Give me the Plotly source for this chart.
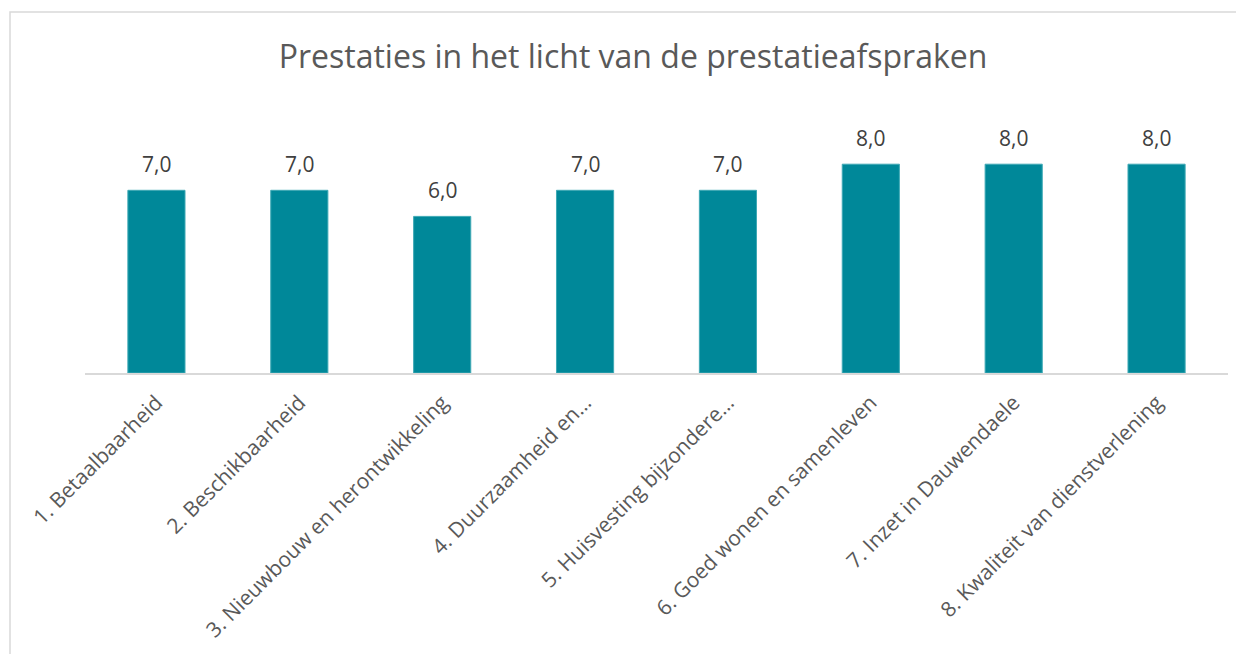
import plotly.graph_objects as go

categories = [
    "1. Betaalbaarheid",
    "2. Beschikbaarheid",
    "3. Nieuwbouw en herontwikkeling",
    "4. Duurzaamheid en…",
    "5. Huisvesting bijzondere…",
    "6. Goed wonen en samenleven",
    "7. Inzet in Dauwendaele",
    "8. Kwaliteit van dienstverlening",
]
scores = [7.0, 7.0, 6.0, 7.0, 7.0, 8.0, 8.0, 8.0]
labels = [f"{v:.1f}".replace(".", ",") for v in scores]

W, H = 1244, 654
OFF = 8  # page body margin
L, R, T, B = 85 - OFF, 16 + OFF, 112 - OFF, 281 + OFF
pw, ph = W - L - R, H - T - B

fig = go.Figure(go.Bar(
    x=categories, y=scores,
    marker=dict(color="#008899", line=dict(color="#3fa9b5", width=1)),
))

for c, v, t in zip(categories, scores, labels):
    fig.add_annotation(x=c, y=v, text=t, showarrow=False, yanchor="bottom", yshift=10,
                       font=dict(size=21, color="#404040", family="Open Sans"))

def px2x(p):
    return (p - OFF - L) / pw

def py2y(p):
    return (H - B - (p - OFF)) / ph

fig.add_shape(type="rect", xref="paper", yref="paper",
              x0=px2x(10), x1=px2x(1260), y0=py2y(720), y1=py2y(12),
              line=dict(color="#d9d9d9", width=1.5), fillcolor="rgba(0,0,0,0)", layer="below")

fig.update_layout(
    width=W, height=H,
    margin=dict(l=L, r=R, t=T, b=B),
    paper_bgcolor="white", plot_bgcolor="white",
    title=dict(text="Prestaties in het licht van de prestatieafspraken",
               x=(633 - OFF) / W, xanchor="center", y=1 - (57 - OFF) / H, yanchor="middle",
               font=dict(size=32, color="#595959", family="Open Sans")),
    bargap=0.6,
    showlegend=False,
    xaxis=dict(tickangle=-45, showline=True, linecolor="#d9d9d9", linewidth=2,
               tickfont=dict(size=21, color="#595959", family="Open Sans"),
               ticks="", showgrid=False, ticklabelstandoff=7),
    yaxis=dict(range=[0, 10], visible=False),
)

fig.write_html("out.html")
